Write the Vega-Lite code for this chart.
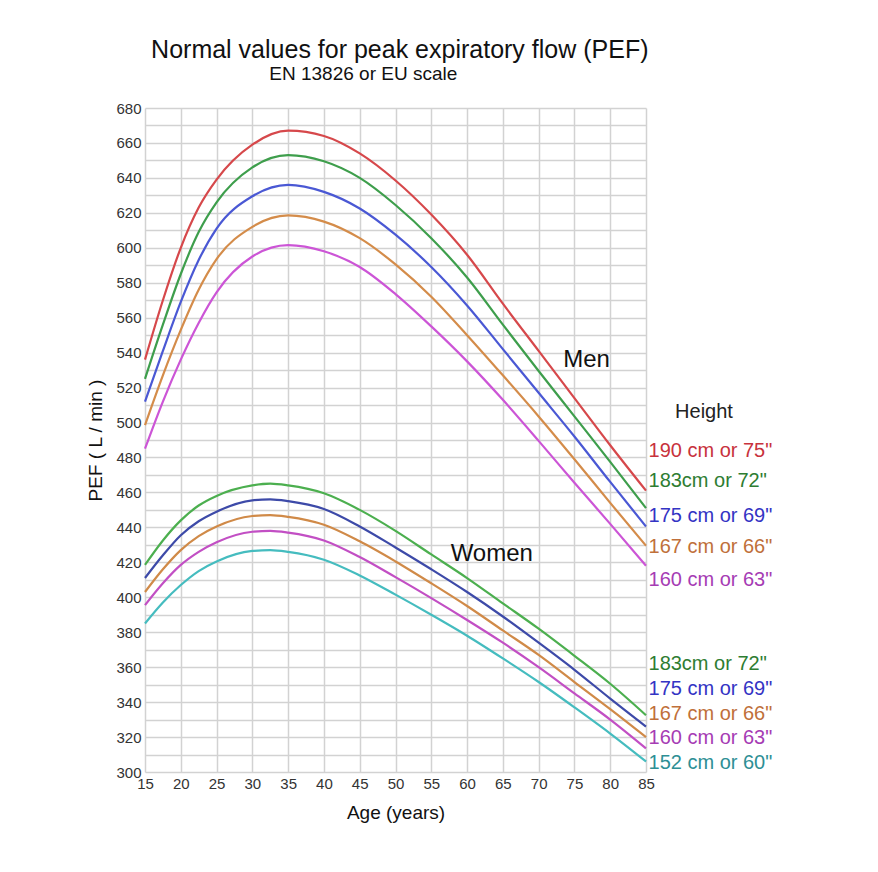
{
  "$schema": "https://vega.github.io/schema/vega-lite/v6.json",
  "description": "Normal values for peak expiratory flow (PEF), EN 13826 / EU scale",
  "autosize": {"type": "none"},
  "padding": {"left": 145, "top": 108, "right": 232, "bottom": 100},
  "width": 501,
  "height": 664,
  "background": "white",
  "config": {
    "font": "Liberation Sans",
    "view": {"stroke": null}
  },
  "datasets": {
    "curves": [
      {"s": "M190", "age": 15, "pef": 536}, {"s": "M190", "age": 17.5, "pef": 570}, {"s": "M190", "age": 20, "pef": 600}, {"s": "M190", "age": 22.5, "pef": 623}, {"s": "M190", "age": 25, "pef": 639}, {"s": "M190", "age": 30, "pef": 659}, {"s": "M190", "age": 35, "pef": 667}, {"s": "M190", "age": 40, "pef": 664}, {"s": "M190", "age": 45, "pef": 654}, {"s": "M190", "age": 50, "pef": 638.5}, {"s": "M190", "age": 55, "pef": 619}, {"s": "M190", "age": 60, "pef": 596}, {"s": "M190", "age": 65, "pef": 568}, {"s": "M190", "age": 70, "pef": 541}, {"s": "M190", "age": 75, "pef": 514}, {"s": "M190", "age": 80, "pef": 487}, {"s": "M190", "age": 85, "pef": 461},
      {"s": "M183", "age": 15, "pef": 525}, {"s": "M183", "age": 17.5, "pef": 556}, {"s": "M183", "age": 20, "pef": 585}, {"s": "M183", "age": 22.5, "pef": 609}, {"s": "M183", "age": 25, "pef": 626}, {"s": "M183", "age": 30, "pef": 646}, {"s": "M183", "age": 35, "pef": 653}, {"s": "M183", "age": 40, "pef": 649.5}, {"s": "M183", "age": 45, "pef": 640}, {"s": "M183", "age": 50, "pef": 624.5}, {"s": "M183", "age": 55, "pef": 605.5}, {"s": "M183", "age": 60, "pef": 583}, {"s": "M183", "age": 65, "pef": 556}, {"s": "M183", "age": 70, "pef": 529.5}, {"s": "M183", "age": 75, "pef": 503.5}, {"s": "M183", "age": 80, "pef": 477.5}, {"s": "M183", "age": 85, "pef": 451},
      {"s": "M175", "age": 15, "pef": 512}, {"s": "M175", "age": 17.5, "pef": 541}, {"s": "M175", "age": 20, "pef": 569}, {"s": "M175", "age": 22.5, "pef": 593}, {"s": "M175", "age": 25, "pef": 611}, {"s": "M175", "age": 30, "pef": 629.5}, {"s": "M175", "age": 35, "pef": 636}, {"s": "M175", "age": 40, "pef": 632}, {"s": "M175", "age": 45, "pef": 622.5}, {"s": "M175", "age": 50, "pef": 607.5}, {"s": "M175", "age": 55, "pef": 589}, {"s": "M175", "age": 60, "pef": 567}, {"s": "M175", "age": 65, "pef": 542}, {"s": "M175", "age": 70, "pef": 517}, {"s": "M175", "age": 75, "pef": 492}, {"s": "M175", "age": 80, "pef": 466}, {"s": "M175", "age": 85, "pef": 440.5},
      {"s": "M167", "age": 15, "pef": 498.5}, {"s": "M167", "age": 17.5, "pef": 527}, {"s": "M167", "age": 20, "pef": 553}, {"s": "M167", "age": 22.5, "pef": 576}, {"s": "M167", "age": 25, "pef": 593.5}, {"s": "M167", "age": 30, "pef": 612}, {"s": "M167", "age": 35, "pef": 618.5}, {"s": "M167", "age": 40, "pef": 615}, {"s": "M167", "age": 45, "pef": 605.5}, {"s": "M167", "age": 50, "pef": 590.5}, {"s": "M167", "age": 55, "pef": 572}, {"s": "M167", "age": 60, "pef": 550}, {"s": "M167", "age": 65, "pef": 527}, {"s": "M167", "age": 70, "pef": 503.5}, {"s": "M167", "age": 75, "pef": 479}, {"s": "M167", "age": 80, "pef": 454}, {"s": "M167", "age": 85, "pef": 429.5},
      {"s": "M160", "age": 15, "pef": 485}, {"s": "M160", "age": 17.5, "pef": 512}, {"s": "M160", "age": 20, "pef": 536}, {"s": "M160", "age": 22.5, "pef": 557}, {"s": "M160", "age": 25, "pef": 574.5}, {"s": "M160", "age": 30, "pef": 595}, {"s": "M160", "age": 35, "pef": 601.5}, {"s": "M160", "age": 40, "pef": 598}, {"s": "M160", "age": 45, "pef": 589}, {"s": "M160", "age": 50, "pef": 573.5}, {"s": "M160", "age": 55, "pef": 555}, {"s": "M160", "age": 60, "pef": 535}, {"s": "M160", "age": 65, "pef": 513}, {"s": "M160", "age": 70, "pef": 489.5}, {"s": "M160", "age": 75, "pef": 465.5}, {"s": "M160", "age": 80, "pef": 442}, {"s": "M160", "age": 85, "pef": 418},
      {"s": "W183", "age": 15, "pef": 418.5}, {"s": "W183", "age": 17.5, "pef": 432.5}, {"s": "W183", "age": 20, "pef": 444}, {"s": "W183", "age": 22.5, "pef": 452.5}, {"s": "W183", "age": 25, "pef": 458}, {"s": "W183", "age": 30, "pef": 464}, {"s": "W183", "age": 32.5, "pef": 465}, {"s": "W183", "age": 35, "pef": 464}, {"s": "W183", "age": 40, "pef": 459.5}, {"s": "W183", "age": 45, "pef": 450}, {"s": "W183", "age": 50, "pef": 438}, {"s": "W183", "age": 55, "pef": 424.5}, {"s": "W183", "age": 60, "pef": 411}, {"s": "W183", "age": 65, "pef": 396.5}, {"s": "W183", "age": 70, "pef": 382}, {"s": "W183", "age": 75, "pef": 366.5}, {"s": "W183", "age": 80, "pef": 350.5}, {"s": "W183", "age": 85, "pef": 332.5},
      {"s": "W175", "age": 15, "pef": 411}, {"s": "W175", "age": 17.5, "pef": 424}, {"s": "W175", "age": 20, "pef": 435.5}, {"s": "W175", "age": 22.5, "pef": 443.5}, {"s": "W175", "age": 25, "pef": 449}, {"s": "W175", "age": 30, "pef": 455.5}, {"s": "W175", "age": 32.5, "pef": 456}, {"s": "W175", "age": 35, "pef": 455}, {"s": "W175", "age": 40, "pef": 450.5}, {"s": "W175", "age": 45, "pef": 440.5}, {"s": "W175", "age": 50, "pef": 428.5}, {"s": "W175", "age": 55, "pef": 416}, {"s": "W175", "age": 60, "pef": 403}, {"s": "W175", "age": 65, "pef": 389}, {"s": "W175", "age": 70, "pef": 374}, {"s": "W175", "age": 75, "pef": 358.5}, {"s": "W175", "age": 80, "pef": 342}, {"s": "W175", "age": 85, "pef": 326},
      {"s": "W167", "age": 15, "pef": 403}, {"s": "W167", "age": 17.5, "pef": 416}, {"s": "W167", "age": 20, "pef": 427}, {"s": "W167", "age": 22.5, "pef": 435}, {"s": "W167", "age": 25, "pef": 440.5}, {"s": "W167", "age": 30, "pef": 446.5}, {"s": "W167", "age": 32.5, "pef": 447}, {"s": "W167", "age": 35, "pef": 446}, {"s": "W167", "age": 40, "pef": 441.5}, {"s": "W167", "age": 45, "pef": 432}, {"s": "W167", "age": 50, "pef": 420.5}, {"s": "W167", "age": 55, "pef": 408}, {"s": "W167", "age": 60, "pef": 395}, {"s": "W167", "age": 65, "pef": 381}, {"s": "W167", "age": 70, "pef": 367}, {"s": "W167", "age": 75, "pef": 351.5}, {"s": "W167", "age": 80, "pef": 336}, {"s": "W167", "age": 85, "pef": 320},
      {"s": "W160", "age": 15, "pef": 395.5}, {"s": "W160", "age": 17.5, "pef": 408}, {"s": "W160", "age": 20, "pef": 418.5}, {"s": "W160", "age": 22.5, "pef": 426}, {"s": "W160", "age": 25, "pef": 431.5}, {"s": "W160", "age": 30, "pef": 437.5}, {"s": "W160", "age": 32.5, "pef": 438}, {"s": "W160", "age": 35, "pef": 437}, {"s": "W160", "age": 40, "pef": 432.5}, {"s": "W160", "age": 45, "pef": 423}, {"s": "W160", "age": 50, "pef": 411.5}, {"s": "W160", "age": 55, "pef": 399.5}, {"s": "W160", "age": 60, "pef": 387}, {"s": "W160", "age": 65, "pef": 374}, {"s": "W160", "age": 70, "pef": 360}, {"s": "W160", "age": 75, "pef": 345}, {"s": "W160", "age": 80, "pef": 330}, {"s": "W160", "age": 85, "pef": 313.5},
      {"s": "W152", "age": 15, "pef": 385}, {"s": "W152", "age": 17.5, "pef": 397}, {"s": "W152", "age": 20, "pef": 407}, {"s": "W152", "age": 22.5, "pef": 415}, {"s": "W152", "age": 25, "pef": 420.5}, {"s": "W152", "age": 30, "pef": 426.5}, {"s": "W152", "age": 32.5, "pef": 427}, {"s": "W152", "age": 35, "pef": 426}, {"s": "W152", "age": 40, "pef": 421.5}, {"s": "W152", "age": 45, "pef": 412.5}, {"s": "W152", "age": 50, "pef": 401.5}, {"s": "W152", "age": 55, "pef": 390}, {"s": "W152", "age": 60, "pef": 378}, {"s": "W152", "age": 65, "pef": 365}, {"s": "W152", "age": 70, "pef": 351.5}, {"s": "W152", "age": 75, "pef": 337}, {"s": "W152", "age": 80, "pef": 322}, {"s": "W152", "age": 85, "pef": 306}
    ],
    "labels": [
      {"s": "M190", "label": "190 cm or 75\"", "age": 85.35, "pef": 480.1},
      {"s": "M183", "label": "183cm or 72\"", "age": 85.35, "pef": 462.9},
      {"s": "M175", "label": "175 cm or 69\"", "age": 85.35, "pef": 443.2},
      {"s": "M167", "label": "167 cm or 66\"", "age": 85.35, "pef": 425.1},
      {"s": "M160", "label": "160 cm or 63\"", "age": 85.35, "pef": 406.6},
      {"s": "W183", "label": "183cm or 72\"", "age": 85.35, "pef": 358.3},
      {"s": "W175", "label": "175 cm or 69\"", "age": 85.35, "pef": 344.0},
      {"s": "W167", "label": "167 cm or 66\"", "age": 85.35, "pef": 329.7},
      {"s": "W160", "label": "160 cm or 63\"", "age": 85.35, "pef": 316.3},
      {"s": "W152", "label": "152 cm or 60\"", "age": 85.35, "pef": 302.0}
    ]
  },
  "layer": [
    {
      "data": {"name": "curves"},
      "mark": {"type": "line", "interpolate": "monotone", "strokeWidth": 2.2},
      "encoding": {
        "x": {
          "field": "age",
          "type": "quantitative",
          "scale": {"domain": [15, 85], "nice": false, "zero": false},
          "axis": {
            "values": [15, 20, 25, 30, 35, 40, 45, 50, 55, 60, 65, 70, 75, 80, 85],
            "tickCount": 15,
            "labelOverlap": false,
            "title": "Age (years)",
            "titleFontSize": 19,
            "titleFontWeight": "normal",
            "titleColor": "#111111",
            "titlePadding": 12,
            "labelFontSize": 15,
            "labelColor": "#333333",
            "labelPadding": 4,
            "labelFlush": false,
            "ticks": false,
            "domain": false,
            "grid": true,
            "gridColor": "#d2d2d2",
            "gridWidth": 1.5
          }
        },
        "y": {
          "field": "pef",
          "type": "quantitative",
          "scale": {"domain": [300, 680], "nice": false, "zero": false},
          "axis": {
            "values": [300, 310, 320, 330, 340, 350, 360, 370, 380, 390, 400, 410, 420, 430, 440, 450, 460, 470, 480, 490, 500, 510, 520, 530, 540, 550, 560, 570, 580, 590, 600, 610, 620, 630, 640, 650, 660, 670, 680],
            "tickCount": 39,
            "labelOverlap": false,
            "labelExpr": "datum.value % 20 == 0 ? datum.label : ''",
            "title": "PEF ( L / min )",
            "titleFontSize": 19,
            "titleFontWeight": "normal",
            "titleColor": "#111111",
            "titlePadding": 10,
            "labelFontSize": 15,
            "labelColor": "#333333",
            "labelPadding": 4,
            "labelFlush": false,
            "ticks": false,
            "domain": false,
            "grid": true,
            "gridColor": "#d2d2d2",
            "gridWidth": 1.5
          }
        },
        "color": {
          "field": "s",
          "type": "nominal",
          "legend": null,
          "scale": {
            "domain": ["M190", "M183", "M175", "M167", "M160", "W183", "W175", "W167", "W160", "W152"],
            "range": ["#d6484b", "#3e9e4c", "#4a58d4", "#d48c4a", "#cc55d6", "#4caf4f", "#3d4aa8", "#d08a48", "#c24fc4", "#45bcbf"]
          }
        },
        "detail": {"field": "s"}
      }
    },
    {
      "data": {"name": "labels"},
      "mark": {"type": "text", "align": "left", "baseline": "alphabetic", "fontSize": 20},
      "encoding": {
        "x": {"field": "age", "type": "quantitative"},
        "y": {"field": "pef", "type": "quantitative"},
        "text": {"field": "label"},
        "color": {
          "field": "s",
          "type": "nominal",
          "legend": null,
          "scale": {
            "domain": ["M190", "M183", "M175", "M167", "M160", "W183", "W175", "W167", "W160", "W152"],
            "range": ["#c8323c", "#2e7d32", "#3434c4", "#c0703a", "#a63cb4", "#2e7d32", "#3434c4", "#c0703a", "#a63cb4", "#2e8f95"]
          }
        }
      }
    },
    {
      "data": {"values": [
        {"label": "Men", "age": 76.7, "pef": 532},
        {"label": "Women", "age": 63.45, "pef": 420.9}
      ]},
      "mark": {"type": "text", "align": "center", "baseline": "alphabetic", "fontSize": 24, "color": "#111111"},
      "encoding": {
        "x": {"field": "age", "type": "quantitative"},
        "y": {"field": "pef", "type": "quantitative"},
        "text": {"field": "label"}
      }
    },
    {
      "data": {"values": [
        {"label": "Height", "age": 93.1, "pef": 502.6}
      ]},
      "mark": {"type": "text", "align": "center", "baseline": "alphabetic", "fontSize": 20, "color": "#222222"},
      "encoding": {
        "x": {"field": "age", "type": "quantitative"},
        "y": {"field": "pef", "type": "quantitative"},
        "text": {"field": "label"}
      }
    },
    {
      "data": {"values": [
        {"label": "Normal values for peak expiratory flow (PEF)", "age": 50.6, "pef": 708.6}
      ]},
      "mark": {"type": "text", "align": "center", "baseline": "alphabetic", "fontSize": 25, "color": "#111111"},
      "encoding": {
        "x": {"field": "age", "type": "quantitative"},
        "y": {"field": "pef", "type": "quantitative"},
        "text": {"field": "label"}
      }
    },
    {
      "data": {"values": [
        {"label": "EN 13826 or EU scale", "age": 45.5, "pef": 696.2}
      ]},
      "mark": {"type": "text", "align": "center", "baseline": "alphabetic", "fontSize": 19, "color": "#111111"},
      "encoding": {
        "x": {"field": "age", "type": "quantitative"},
        "y": {"field": "pef", "type": "quantitative"},
        "text": {"field": "label"}
      }
    }
  ],
  "resolve": {"scale": {"color": "independent"}}
}
